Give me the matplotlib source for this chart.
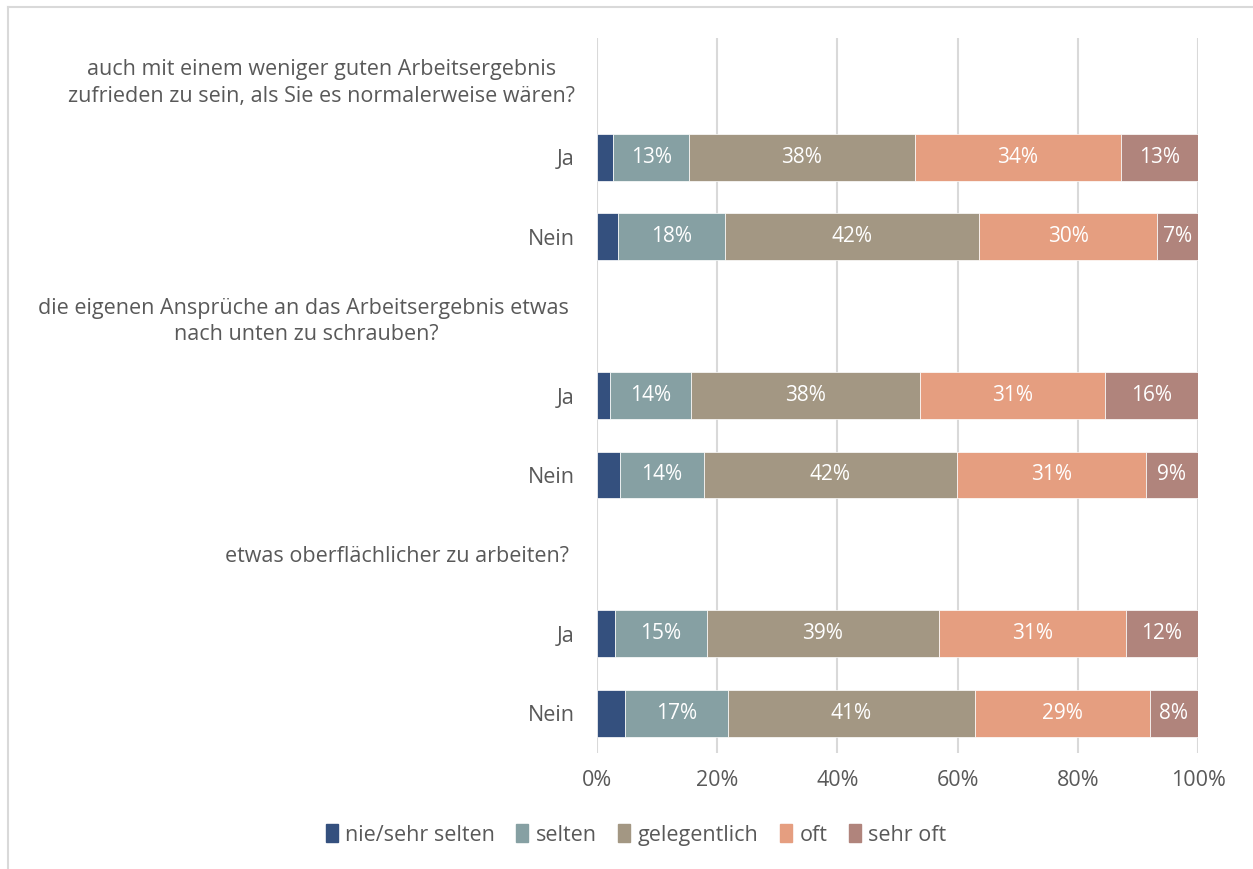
import matplotlib
matplotlib.use("Agg")
import matplotlib.pyplot as plt
from matplotlib.lines import Line2D
import numpy as np

plt.rcParams['font.family'] = ['Open Sans', 'DejaVu Sans']

# Rows from top to bottom; question rows carry no bars
row_labels = [
    "auch mit einem weniger guten Arbeitsergebnis\nzufrieden zu sein, als Sie es normalerweise wären?",
    "Ja", "Nein",
    "die eigenen Ansprüche an das Arbeitsergebnis etwas \nnach unten zu schrauben?",
    "Ja", "Nein",
    "etwas oberflächlicher zu arbeiten? ",
    "Ja", "Nein",
]
series_names = ["nie/sehr selten", "selten", "gelegentlich", "oft", "sehr oft"]
nie_sehr_selten = [0, 2.7, 3.5, 0, 2.2, 3.8, 0, 3.0, 4.7]
selten = [0, 12.6, 17.8, 0, 13.5, 14.0, 0, 15.3, 17.1]
gelegentlich = [0, 37.6, 42.3, 0, 38.1, 42.1, 0, 38.6, 41.1]
oft = [0, 34.3, 29.6, 0, 30.7, 31.4, 0, 31.1, 29.1]
sehr_oft = [0, 12.8, 6.8, 0, 15.6, 8.7, 0, 12.0, 8.0]
xtick_values = [0, 20, 40, 60, 80, 100]

colors = ["#34507e", "#86a0a3", "#a39783", "#e59e80", "#b0847c"]
text_gray = "#595959"
grid_gray = "#d9d9d9"
fs = 15.5
fs_val = 15

fig = plt.figure(figsize=(12.53, 8.69), dpi=100)
ax = fig.add_axes([597 / 1253, 1 - 753 / 869, (1198 - 597) / 1253, (753 - 38) / 869])

series = [nie_sehr_selten, selten, gelegentlich, oft, sehr_oft]
n = len(row_labels)
ypos = np.arange(n)
left = np.zeros(n)
for name, vals, col in zip(series_names, series, colors):
    vals = np.array(vals, dtype=float)
    has = vals > 0
    ax.barh(ypos[has], vals[has], left=left[has], height=0.59, color=col,
            edgecolor="white", linewidth=0.5, label=name, zorder=3)
    if name != "nie/sehr selten":
        for y, l, v in zip(ypos[has], left[has], vals[has]):
            ax.text(l + v / 2, y, f"{round(v)}%", ha="center", va="center",
                    color="white", fontsize=fs_val, zorder=4)
    left += vals

ax.set_ylim(n - 0.5, -0.5)
ax.set_xlim(0, 100)
ax.set_yticks(ypos)
ax.set_yticklabels(row_labels, fontsize=fs, color=text_gray, multialignment="center",
                   linespacing=1.35)
ax.set_xticks(xtick_values)
ax.set_xticklabels([f"{v}%" for v in xtick_values], fontsize=fs, color=text_gray)
ax.tick_params(axis="both", length=0)
ax.tick_params(axis="y", pad=16)
ax.tick_params(axis="x", pad=12)
ax.set_axisbelow(True)
ax.xaxis.grid(True, color=grid_gray, linewidth=1.5)
for s in ax.spines.values():
    s.set_visible(False)

handles = [plt.Rectangle((0, 0), 1, 1, color=c) for c in colors]
fig.legend(handles, series_names, loc="center", bbox_to_anchor=(636 / 1253, 1 - 835 / 869),
           ncol=5, frameon=False, fontsize=fs, labelcolor=text_gray,
           handlelength=0.55, handleheight=0.85, handletextpad=0.35, columnspacing=1.0)

# Chart area frame
fig.add_artist(Line2D([8 / 1253, 1], [1 - 7 / 869, 1 - 7 / 869], color=grid_gray,
                      linewidth=1.5, transform=fig.transFigure))
fig.add_artist(Line2D([8 / 1253, 8 / 1253], [0, 1 - 7 / 869], color=grid_gray,
                      linewidth=1.5, transform=fig.transFigure))

fig.savefig("out.png", dpi=100)
